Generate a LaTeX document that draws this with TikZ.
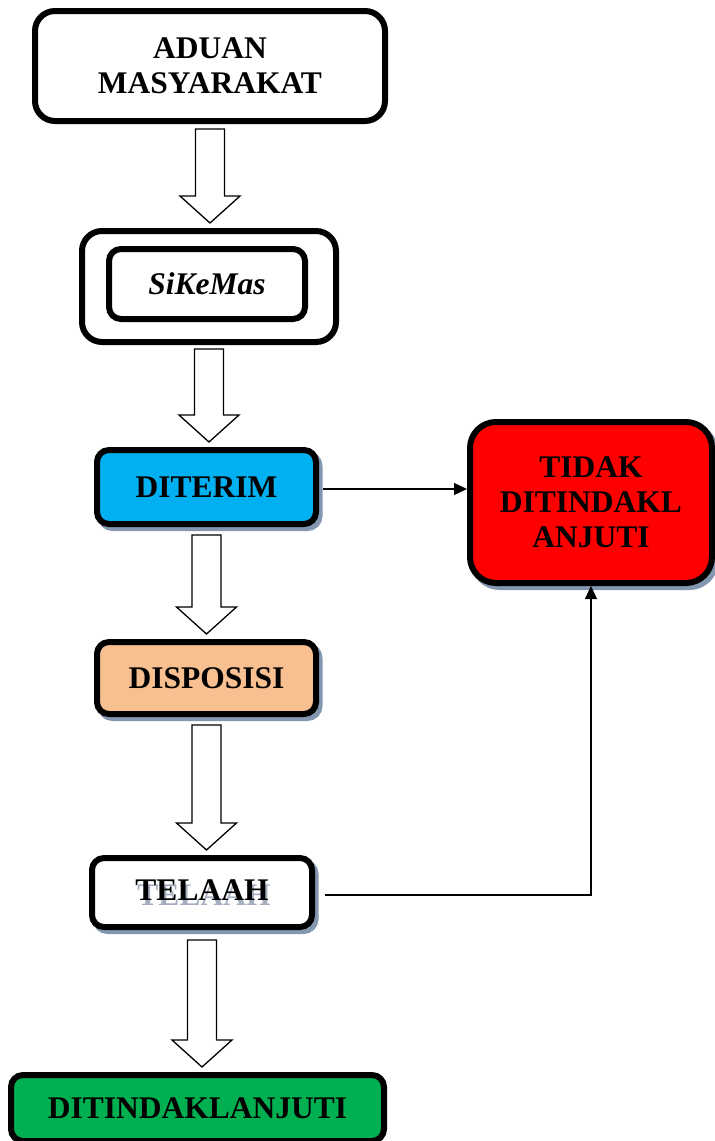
\documentclass[tikz,border=0pt]{standalone}
\usepackage{fontspec}
\setmainfont{Liberation Serif}
\usetikzlibrary{positioning,arrows.meta,calc,shadows}

\definecolor{boxcyan}{RGB}{0,176,240}
\definecolor{boxpeach}{RGB}{248,192,144}
\definecolor{boxred}{RGB}{255,0,0}
\definecolor{boxgreen}{RGB}{0,176,80}
\definecolor{shadowblue}{RGB}{132,151,176}
\definecolor{textshade}{RGB}{165,175,192}

\newcommand{\blockdown}[3][6pt]{%
  \draw[hollow] let \p1=(#2.south), \p2=(#3.north) in
    (\x1-14.5pt,\y1-#1) -- (\x1+14.5pt,\y1-#1) -- (\x1+14.5pt,\y2+32pt) -- (\x1+30pt,\y2+32pt)
    -- (\x1,\y2+5pt) -- (\x1-30pt,\y2+32pt) -- (\x1-14.5pt,\y2+32pt) -- cycle;}
\newcommand{\shadetext}[1]{\makebox[0pt][l]{\hspace{2pt}\raisebox{-5pt}{\color{textshade}#1}}#1}

\begin{document}
\begin{tikzpicture}[x=1pt, y=-1pt, font=\fontsize{31.5}{35}\selectfont\bfseries, stage/.style={draw, line width=6pt, rounded corners=12pt, align=center, inner sep=0pt}, shaded/.style={stage, drop shadow={shadow xshift=3.5pt, shadow yshift=-4pt, fill=shadowblue, draw=shadowblue, line width=6pt, opacity=1}}, hollow/.style={draw, fill=white, line width=1.3pt}, link/.style={line width=1.2pt, -{Triangle[length=13pt,width=12pt]}}]
\useasboundingbox (0,0) rectangle (715,1141);
\node[stage, rounded corners=20pt, minimum width=350pt, minimum height=110pt] (aduan) at (210,66) {ADUAN\\MASYARAKAT};
\node[stage, rounded corners=20pt, minimum width=254pt, minimum height=111pt, below=104pt of aduan, xshift=-1pt] (sikemasframe) {};
\node[stage, minimum width=196pt, minimum height=70pt] (sikemas) at ([xshift=-2pt,yshift=2.5pt]sikemasframe.center) {\itshape SiKeMas};
\node[shaded, fill=boxcyan, minimum width=219pt, minimum height=74pt, below=102pt of sikemasframe, xshift=-2.5pt] (diterim) {DITERIM};
\node[shaded, fill=boxred, rounded corners=26pt, minimum width=242pt, minimum height=161pt, right=148pt of diterim, yshift=-15.5pt] (tidak) {TIDAK\\DITINDAKL\\ANJUTI};
\node[shaded, fill=boxpeach, minimum width=219pt, minimum height=72pt, below=112pt of diterim] (disposisi) {DISPOSISI};
\node[shaded, fill=white, minimum width=220pt, minimum height=69pt, below=138pt of disposisi, xshift=-4.5pt] (telaah) {\shadetext{TELAAH}};
\node[stage, fill=boxgreen, minimum width=373pt, minimum height=66pt, below=142pt of telaah, xshift=-4.5pt] (ditindak) {DITINDAKLANJUTI};
\blockdown[5pt]{aduan}{sikemasframe}
\blockdown[4pt]{sikemasframe}{diterim}
\blockdown[8pt]{diterim}{disposisi}
\blockdown[8pt]{disposisi}{telaah}
\blockdown[10pt]{telaah}{ditindak}
\draw[link] ([xshift=4pt,yshift=-2pt]diterim.east) -- ([yshift=-2pt]diterim.east -| tidak.west);
\draw[link] ([xshift=10pt,yshift=-2.5pt]telaah.east) -| (tidak.south);
\end{tikzpicture}
\end{document}
